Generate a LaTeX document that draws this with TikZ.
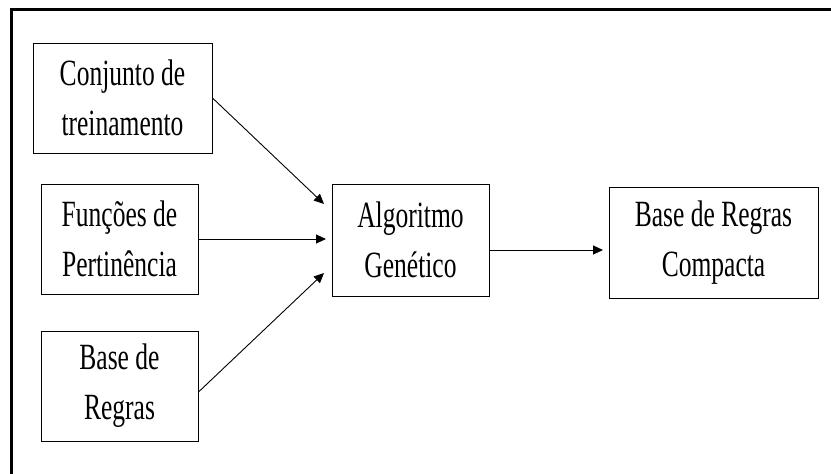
\documentclass[tikz,border=0pt]{standalone}
\usepackage{fontspec}
\setmainfont{Liberation Serif}[FakeStretch=0.69]
\usetikzlibrary{arrows.meta,calc}
\begin{document}
\begin{tikzpicture}[x=1pt,y=-1pt,
  blk/.style={draw=black,line width=1pt,align=center,inner sep=0pt,
    font=\fontsize{37}{50}\selectfont},
  arr/.style={line width=0.9pt,-{Triangle[length=10pt,width=9pt]}},
  frame/.style={line width=2.6pt}]
\useasboundingbox (0,0) rectangle (831,474);
\coordinate (fa) at (831,9.5);
\coordinate (fb) at (11.5,9.5);
\coordinate (fc) at (11.5,474);
\draw[frame] (fa) -- (fb) -- (fc);
\node[blk,minimum width=179pt,minimum height=110pt] (b1) at (122.5,98) {Conjunto de\\treinamento};
\node[blk,minimum width=157pt,minimum height=110pt] (b2) at (119.5,239) {Funções de\\Pertinência};
\node[blk,minimum width=157pt,minimum height=110pt] (b3) at (119.5,386) {Base de\\Regras};
\node[blk,minimum width=157pt,minimum height=112pt] (ag) at (410.5,240) {Algoritmo\\Genético};
\node[blk,minimum width=209pt,minimum height=111pt] (bc) at (713.5,242.5) {Base de Regras\\Compacta};
\coordinate (t1) at (324,204);
\coordinate (t2) at (326,239);
\coordinate (t3) at (324,273);
\coordinate (t4) at (603,250);
\draw[arr] (b1.east) -- (t1);
\draw[arr] (b2.east) -- (t2);
\draw[arr] ($(b3.east)+(0,6)$) -- (t3);
\draw[arr] ($(ag.east)+(0,10)$) -- (t4);
\end{tikzpicture}
\end{document}
